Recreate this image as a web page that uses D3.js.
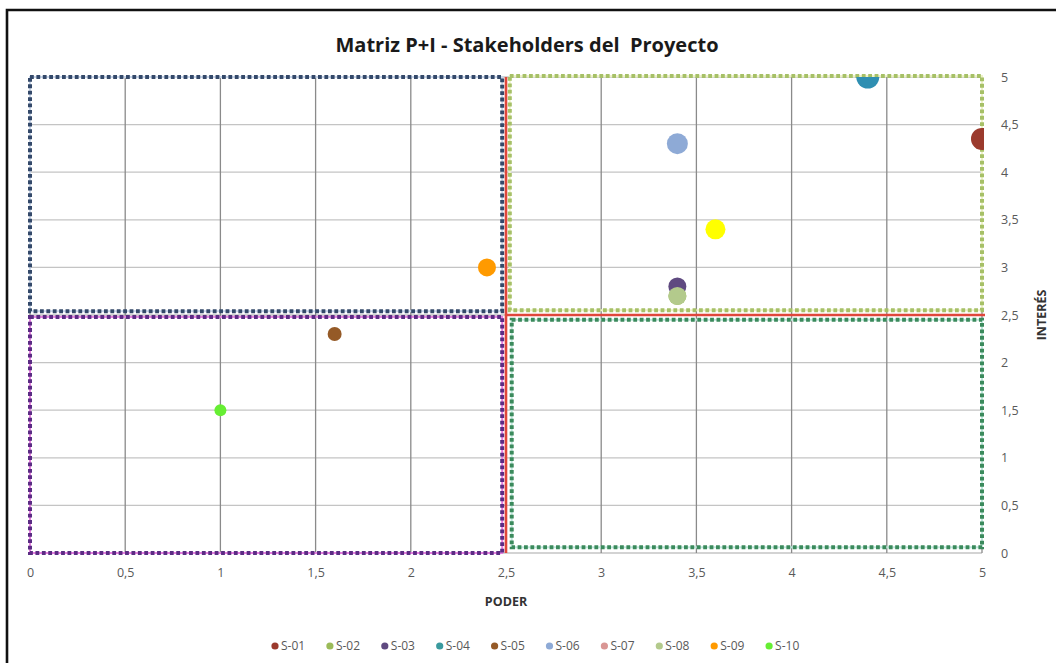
<!DOCTYPE html>
<html>
<head>
<meta charset="utf-8">
<script src="https://cdn.jsdelivr.net/npm/d3@7/dist/d3.min.js"></script>
<style>
  html, body { margin: 0; padding: 0; background: #fff; }
  svg { display: block; }
  text { font-family: "Liberation Sans Narrow", "Open Sans", Arial, sans-serif; }
</style>
</head>
<body>
<svg id="chart" width="1056" height="663"></svg>
<script>
// Stakeholders and their power (PODER) / interest (INTERÉS) scores
const stakeholders = ["S-01", "S-02", "S-03", "S-04", "S-05", "S-06", "S-07", "S-08", "S-09", "S-10"];
const poder   = [5.0, 3.4, 3.4, 4.4, 1.6, 3.4, 3.6, 3.4, 2.4, 1.0];
const interes = [4.35, 2.7, 2.8, 5.0, 2.3, 4.3, 3.4, 2.7, 3.0, 1.5];
const axisTicks = [0, 0.5, 1, 1.5, 2, 2.5, 3, 3.5, 4, 4.5, 5];
const threshold = 2.5;

// Appearance per stakeholder
const markerColor = {
  "S-01": "#9b3a2d", "S-02": "#9bbb59", "S-03": "#5f4a80", "S-04": "#2f8fb2", "S-05": "#955a27",
  "S-06": "#8eaad6", "S-07": "#ffff00", "S-08": "#b3ca8c", "S-09": "#ff9a00", "S-10": "#66ee33"
};
const legendColor = Object.assign({}, markerColor, { "S-04": "#3a9a9e", "S-07": "#d99694" });
const markerRadius = {
  "S-01": 11, "S-02": 9, "S-03": 9, "S-04": 11.5, "S-05": 7,
  "S-06": 10.5, "S-07": 10, "S-08": 9, "S-09": 9, "S-10": 6
};

const svg = d3.select("#chart");
const x = d3.scaleLinear().domain([0, 5]).range([30, 982]);
const y = d3.scaleLinear().domain([0, 5]).range([553, 77]);
const fmt = d => String(d).replace(".", ",");

// Outer frame (top and left edges)
svg.append("path")
  .attr("d", "M7,663 L7,10 L1056,10")
  .attr("fill", "none").attr("stroke", "#111").attr("stroke-width", 2.6);

// Title
svg.append("text")
  .attr("x", 527).attr("y", 52)
  .attr("text-anchor", "middle")
  .attr("font-size", 20).attr("font-weight", "bold").attr("fill", "#1a1a1a")
  .style("white-space", "pre")
  .text("Matriz P+I - Stakeholders del  Proyecto");

// Gridlines
const grid = svg.append("g");
grid.selectAll("line.h").data(axisTicks).join("line")
  .attr("x1", x(0)).attr("x2", x(5))
  .attr("y1", d => y(d)).attr("y2", d => y(d))
  .attr("stroke", "#c4c4c4").attr("stroke-width", 1.3);
grid.selectAll("line.v").data(axisTicks).join("line")
  .attr("x1", d => x(d)).attr("x2", d => x(d))
  .attr("y1", y(0)).attr("y2", y(5))
  .attr("stroke", "#8a8a8a").attr("stroke-width", 1.3);

// Quadrant frames (dotted), drawn in data units
const quadrants = [
  { x0: 0,    x1: 2.48, y0: 2.54, y1: 5,    dot: "#34496a", under: "#c9d6ea" },
  { x0: 0,    x1: 2.48, y0: 0,    y1: 2.48, dot: "#5b2c84", under: "#e57fe0" },
  { x0: 2.52, x1: 5,    y0: 2.55, y1: 5.01, dot: "#a6c067", under: "#eef3c8" },
  { x0: 2.53, x1: 5,    y0: 0.06, y1: 2.45, dot: "#3b8a5c", under: "#bfe8dc" }
];
const qg = svg.append("g");
quadrants.forEach(q => {
  const rx = x(q.x0), ry = y(q.y1), rw = x(q.x1) - x(q.x0), rh = y(q.y0) - y(q.y1);
  qg.append("rect").attr("x", rx).attr("y", ry).attr("width", rw).attr("height", rh)
    .attr("fill", "none").attr("stroke", q.under).attr("stroke-width", 2);
  qg.append("rect").attr("x", rx).attr("y", ry).attr("width", rw).attr("height", rh)
    .attr("fill", "none").attr("stroke", q.dot).attr("stroke-width", 4)
    .attr("stroke-dasharray", "3.8 2.6");
});

// Threshold lines
svg.append("line")
  .attr("x1", x(threshold)).attr("x2", x(threshold))
  .attr("y1", y(0)).attr("y2", y(5))
  .attr("stroke", "#e0463b").attr("stroke-width", 2.6);
svg.append("line")
  .attr("x1", x(threshold)).attr("x2", x(5) + 3)
  .attr("y1", y(threshold)).attr("y2", y(threshold))
  .attr("stroke", "#e0463b").attr("stroke-width", 2.6);

// Points, clipped to the plot area
svg.append("clipPath").attr("id", "plotClip")
  .append("rect").attr("x", x(0)).attr("y", y(5))
  .attr("width", x(5) - x(0) + 2).attr("height", y(0) - y(5));
const points = stakeholders.map((s, i) => ({ s, p: poder[i], v: interes[i] }));
svg.append("g").attr("clip-path", "url(#plotClip)")
  .selectAll("circle").data(points).join("circle")
  .attr("cx", d => x(d.p)).attr("cy", d => y(d.v))
  .attr("r", d => markerRadius[d.s])
  .attr("fill", d => markerColor[d.s]);

// Axes
const xAxis = svg.append("g").attr("transform", `translate(0,${y(0)})`)
  .call(d3.axisBottom(x).tickValues(axisTicks).tickFormat(fmt).tickSize(0).tickPadding(15));
const yAxis = svg.append("g").attr("transform", `translate(${x(5)},0)`)
  .call(d3.axisRight(y).tickValues(axisTicks).tickFormat(fmt).tickSize(0).tickPadding(19));
[xAxis, yAxis].forEach(a => {
  a.select(".domain").remove();
  a.selectAll("text").attr("font-size", 12.5).attr("fill", "#595959")
    .style("font-family", "'Liberation Sans Narrow', 'Open Sans', Arial, sans-serif");
});

// Axis titles
svg.append("text")
  .attr("x", x(2.5)).attr("y", 606)
  .attr("text-anchor", "middle").attr("font-size", 12.5).attr("font-weight", "bold").attr("fill", "#333")
  .text("PODER");
svg.append("text")
  .attr("transform", `translate(1046,${y(2.5)}) rotate(-90)`)
  .attr("text-anchor", "middle").attr("font-size", 12.5).attr("font-weight", "bold").attr("fill", "#333")
  .text("INTERÉS");

// Legend
const legend = svg.append("g").attr("transform", "translate(275,646)");
const item = legend.selectAll("g").data(stakeholders).join("g")
  .attr("transform", (d, i) => `translate(${i * 54.9},0)`);
item.append("circle").attr("r", 3.6).attr("fill", d => legendColor[d]);
item.append("text").attr("x", 6).attr("dy", "0.35em")
  .attr("font-size", 12).attr("fill", "#595959").text(d => d);
</script>
</body>
</html>
